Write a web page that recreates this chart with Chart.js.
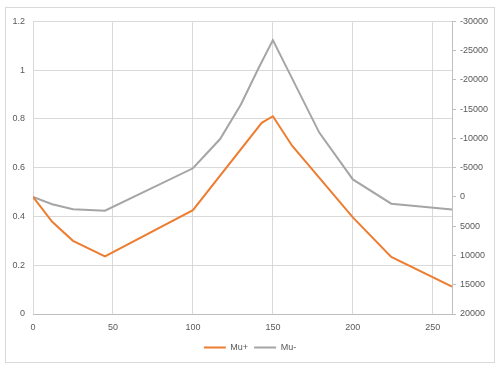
<!DOCTYPE html>
<html>
<head>
<meta charset="utf-8">
<script src="https://cdn.jsdelivr.net/npm/chart.js@4"></script>
<style>
  body { margin: 0; background: #fff; }
  #box { position: absolute; left: 5px; top: 7px; width: 488px; height: 354px; border: 1px solid #d9d9d9; }
</style>
</head>
<body>
<div id="box"><canvas id="myChart" width="488" height="354"></canvas></div>
<script>
// values
const muPlusX = [0, 12, 25, 45, 100, 143, 150, 162, 200, 224, 262]
const muPlusY = [0.48, 0.378, 0.30, 0.236, 0.426, 0.784, 0.811, 0.69, 0.396, 0.234, 0.112]
const muMinusX = [0, 12, 25, 45, 100, 117, 130, 141, 150, 179, 200, 224, 262]
const muMinusY = [0, 1250, 2100, 2350, -4900, -9900, -15800, -22000, -26800, -11000, -3000, 1150, 2150]

const txt = '#595959'
const grid = '#d9d9d9'
const font = { family: 'Liberation Sans', size: 9 }

const pts = (xs, ys) => xs.map((x, i) => ({ x: x, y: ys[i] }))

const ctx = document.getElementById('myChart').getContext('2d')
const myChart = new Chart(ctx, {
    type: 'line',
    data: {
        datasets: [{
            label: 'Mu+',
            data: pts(muPlusX, muPlusY),
            yAxisID: 'y',
            borderColor: '#ED7D31',
            backgroundColor: '#ED7D31',
            borderWidth: 2,
            pointRadius: 0,
            tension: 0
        }, {
            label: 'Mu-',
            data: pts(muMinusX, muMinusY),
            yAxisID: 'y1',
            borderColor: '#A5A5A5',
            backgroundColor: '#A5A5A5',
            borderWidth: 2,
            pointRadius: 0,
            tension: 0
        }]
    },
    options: {
        responsive: false,
        animation: false,
        layout: { padding: { top: 11, right: 0, left: 0, bottom: 0 } },
        plugins: {
            tooltip: { enabled: false },
            legend: {
                position: 'bottom',
                labels: {
                    usePointStyle: true,
                    pointStyle: 'line',
                    pointStyleWidth: 22,
                    color: txt,
                    font: font,
                    padding: 6
                }
            }
        },
        scales: {
            x: {
                type: 'linear',
                min: 0,
                max: 262,
                ticks: { stepSize: 50, includeBounds: false, color: txt, font: font, maxRotation: 0, padding: 8 },
                grid: { color: grid, drawTicks: false },
                border: { color: '#bfbfbf' },
                afterFit: s => { s.height = 23 }
            },
            y: {
                position: 'left',
                min: 0,
                max: 1.2,
                ticks: { stepSize: 0.2, color: txt, font: font, padding: 8, callback: v => String(+v.toFixed(1)) },
                grid: { color: grid, drawTicks: false },
                border: { display: false },
                afterFit: s => { s.width = 27 }
            },
            y1: {
                position: 'right',
                reverse: true,
                min: -30000,
                max: 20000,
                ticks: { stepSize: 5000, color: txt, font: font, padding: 4, callback: v => String(v) },
                grid: { drawOnChartArea: false, color: '#bfbfbf', tickLength: 4 },
                border: { color: '#bfbfbf' },
                afterFit: s => { s.width = 42 }
            }
        }
    }
})
</script>
</body>
</html>
